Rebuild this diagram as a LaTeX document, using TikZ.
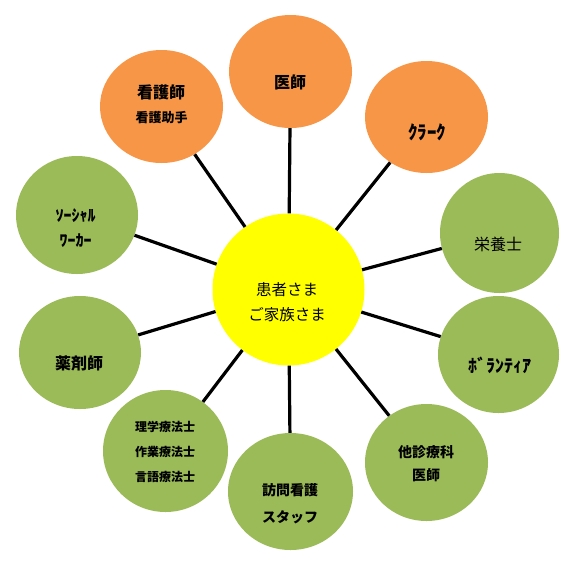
\documentclass[tikz,border=0pt]{standalone}
\usepackage{fontspec}
\setmainfont{Noto Sans CJK JP}
\usetikzlibrary{shapes.geometric}
\definecolor{orangeC}{HTML}{F79646}
\definecolor{greenC}{HTML}{9BBB59}
\definecolor{yellowC}{HTML}{FFFF00}
\tikzset{
  ball/.style={ellipse, inner sep=0pt, draw=none},
  oball/.style={ball, fill=orangeC},
  gball/.style={ball, fill=greenC},
  yball/.style={ball, fill=yellowC},
  lbl/.style={inner sep=0pt, align=center, text=black},
  conn/.style={line width=3.2pt, black},
}
\begin{document}
\begin{tikzpicture}[x=1pt,y=-1pt]
\useasboundingbox (0,0) rectangle (581,563);
% circles
\node[yball, minimum width=152pt, minimum height=152pt] (center) at (288.5,289.5) {};
\node[oball, minimum width=123pt, minimum height=113pt] (ishi) at (290.5,71.5) {};
\node[oball, minimum width=123pt, minimum height=112pt] (clerk) at (426.5,117) {};
\node[oball, minimum width=123pt, minimum height=113pt] (kango) at (161.5,106.5) {};
\node[gball, minimum width=122pt, minimum height=118pt] (social) at (77,215) {};
\node[gball, minimum width=119pt, minimum height=120pt] (eiyo) at (499.5,233) {};
\node[gball, minimum width=122pt, minimum height=113pt] (yaku) at (80,352.5) {};
\node[gball, minimum width=121pt, minimum height=117pt] (vol) at (498.5,354.5) {};
\node[gball, minimum width=125pt, minimum height=122pt] (ryoho) at (165.5,451) {};
\node[gball, minimum width=125pt, minimum height=117pt] (homon) at (290.5,491.5) {};
\node[gball, minimum width=123pt, minimum height=117pt] (tashin) at (426.5,462.5) {};
% connectors
\foreach \n in {ishi,clerk,kango,social,eiyo,yaku,vol,ryoho,homon,tashin}
  \draw[conn] (center) -- (\n);
% labels
\node[lbl, font=\fontsize{15.5}{25}\selectfont] (center-t) at (287,302.5) {患者さま\\ご家族さま};
\node[lbl, font=\bfseries\fontsize{16}{20}\selectfont] (ishi-t) at (290,82) {医師};
\node[lbl, font=\bfseries\fontsize{19}{20}\selectfont] (clerk-t) at (427,132) {ｸﾗｰｸ};
\node[lbl, font=\bfseries\fontsize{16}{20}\selectfont] (kango-t1) at (161,92) {看護師};
\node[lbl, font=\bfseries\fontsize{13}{16}\selectfont] (kango-t2) at (161.5,118) {看護助手};
\node[lbl, font=\bfseries\fontsize{16}{24.5}\selectfont] (social-t) at (75.5,228) {ｿｰｼｬﾙ\\ﾜｰｶｰ};
\node[lbl, font=\fontsize{16}{20}\selectfont] (eiyo-t) at (498,244) {栄養士};
\node[lbl, font=\bfseries\fontsize{16}{20}\selectfont] (yaku-t) at (79,363) {薬剤師};
\node[lbl, font=\bfseries\fontsize{18}{20}\selectfont] (vol-t) at (500,365) {ﾎﾞﾗﾝﾃｨｱ};
\node[lbl, font=\bfseries\fontsize{12}{25}\selectfont] (ryoho-t) at (165,451.5) {理学療法士\\作業療法士\\言語療法士};
\node[lbl, font=\bfseries\fontsize{14}{27}\selectfont] (homon-t) at (290,503.5) {訪問看護\\スタッフ};
\node[lbl, font=\bfseries\fontsize{14}{23}\selectfont] (tashin-t) at (426,463.5) {他診療科\\医師};
\end{tikzpicture}
\end{document}
